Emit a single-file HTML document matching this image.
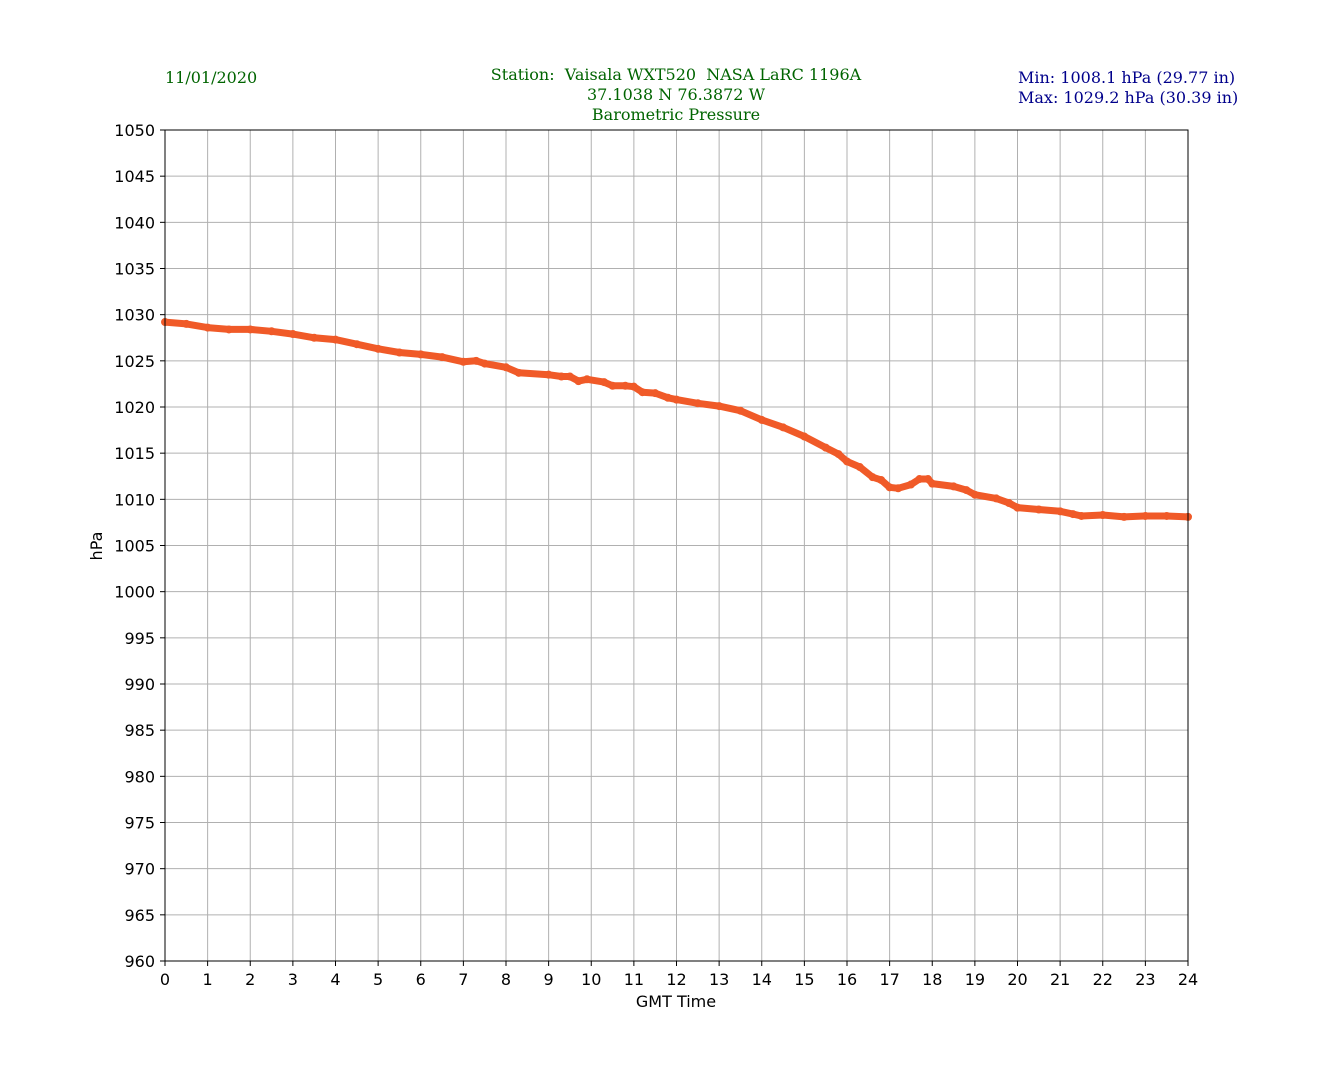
<!DOCTYPE html>
<html><head><meta charset="utf-8"><style>
body{margin:0;background:#fff;}
svg{display:block;}
.t{font-family:"DejaVu Sans","Liberation Sans",sans-serif;font-size:16px;fill:#000;}
.s{font-family:"DejaVu Serif","Liberation Serif",serif;font-size:16px;white-space:pre;}
</style></head><body>
<svg id="chart" width="1320" height="1080">
<text class="s" x="165" y="83" fill="#006400">11/01/2020</text>
<text class="s" x="676" y="80" fill="#006400" text-anchor="middle" xml:space="preserve">Station:  Vaisala WXT520  NASA LaRC 1196A</text>
<text class="s" x="676" y="100" fill="#006400" text-anchor="middle">37.1038 N 76.3872 W</text>
<text class="s" x="676" y="120" fill="#006400" text-anchor="middle">Barometric Pressure</text>
<text class="s" x="1018" y="83" fill="#00008b">Min: 1008.1 hPa (29.77 in)</text>
<text class="s" x="1018" y="103" fill="#00008b">Max: 1029.2 hPa (30.39 in)</text>
<g id="grid"></g>
<g id="series"></g>
<rect x="165" y="130" width="1023" height="831" fill="none" stroke="#000" stroke-width="1"/>
<g id="axes"></g>
<text class="t" x="676" y="1007" text-anchor="middle">GMT Time</text>
<text class="t" transform="translate(102,546) rotate(-90)" text-anchor="middle">hPa</text>
</svg>
<script>
const hours=[0,0.5,1,1.5,2,2.5,3,3.5,4,4.5,5,5.5,6,6.5,7,7.3,7.5,8,8.3,9,9.3,9.5,9.7,9.9,10.3,10.5,10.8,11,11.2,11.5,11.8,12,12.5,13,13.5,14,14.5,15,15.5,15.8,16,16.3,16.6,16.8,17,17.2,17.5,17.7,17.9,18,18.5,18.8,19,19.5,19.8,20,20.5,21,21.3,21.5,22,22.5,23,23.5,24];
const pressure=[1029.2,1029.0,1028.6,1028.4,1028.4,1028.2,1027.9,1027.5,1027.3,1026.8,1026.3,1025.9,1025.7,1025.4,1024.9,1025.0,1024.7,1024.3,1023.7,1023.5,1023.3,1023.3,1022.8,1023.0,1022.7,1022.3,1022.3,1022.2,1021.6,1021.5,1021.0,1020.8,1020.4,1020.1,1019.6,1018.6,1017.8,1016.8,1015.6,1014.9,1014.1,1013.5,1012.4,1012.1,1011.3,1011.2,1011.6,1012.2,1012.2,1011.7,1011.4,1011.0,1010.5,1010.1,1009.6,1009.1,1008.9,1008.7,1008.4,1008.2,1008.3,1008.1,1008.2,1008.2,1008.1];
const xTicks=[0,1,2,3,4,5,6,7,8,9,10,11,12,13,14,15,16,17,18,19,20,21,22,23,24];
const yTicks=[960,965,970,975,980,985,990,995,1000,1005,1010,1015,1020,1025,1030,1035,1040,1045,1050];
const NS="http://www.w3.org/2000/svg";
const X0=165,X1=1188,Y0=961,Y1=130;
function xs(v){return X0+(v-0)/(24-0)*(X1-X0);}
function ys(v){return Y0-(v-960)/(1050-960)*(Y0-Y1);}
const grid=document.getElementById('grid'),axes=document.getElementById('axes'),ser=document.getElementById('series');
function mk(tag,attrs,parent){const e=document.createElementNS(NS,tag);for(const k in attrs)e.setAttribute(k,attrs[k]);parent.appendChild(e);return e;}
xTicks.forEach(v=>{
  const x=xs(v);
  const g=mk('line',{x1:x,x2:x,y1:Y1,y2:Y0,stroke:'#b0b0b0','stroke-width':1},grid);
  
  
  const tk=mk('line',{x1:x,x2:x,y1:Y0,y2:Y0+5,stroke:'#000'},axes);
  
  
  const t=mk('text',{x:x,y:Y0+24,'text-anchor':'middle',class:'t'},axes);
  t.textContent=v;
  
  
});
yTicks.forEach(v=>{
  const y=ys(v);
  const g=mk('line',{x1:X0,x2:X1,y1:y,y2:y,stroke:'#b0b0b0','stroke-width':1},grid);
  
  
  const tk=mk('line',{x1:X0-5,x2:X0,y1:y,y2:y,stroke:'#000'},axes);
  
  
  const t=mk('text',{x:X0-10,y:y+6,'text-anchor':'end',class:'t'},axes);
  t.textContent=v;
  
  
});
const d=hours.map((h,i)=>(i?'L':'M')+xs(h).toFixed(1)+','+ys(pressure[i]).toFixed(1)).join(' ');
const p=mk('path',{d:d,fill:'none',stroke:'#f05a28','stroke-width':7,'stroke-linejoin':'round','stroke-linecap':'round'},ser);


hours.forEach((h,i)=>{
  const c=mk('circle',{cx:xs(h),cy:ys(pressure[i]),r:4,fill:'#f05a28'},ser);
  
  
});
</script>
</body></html>
